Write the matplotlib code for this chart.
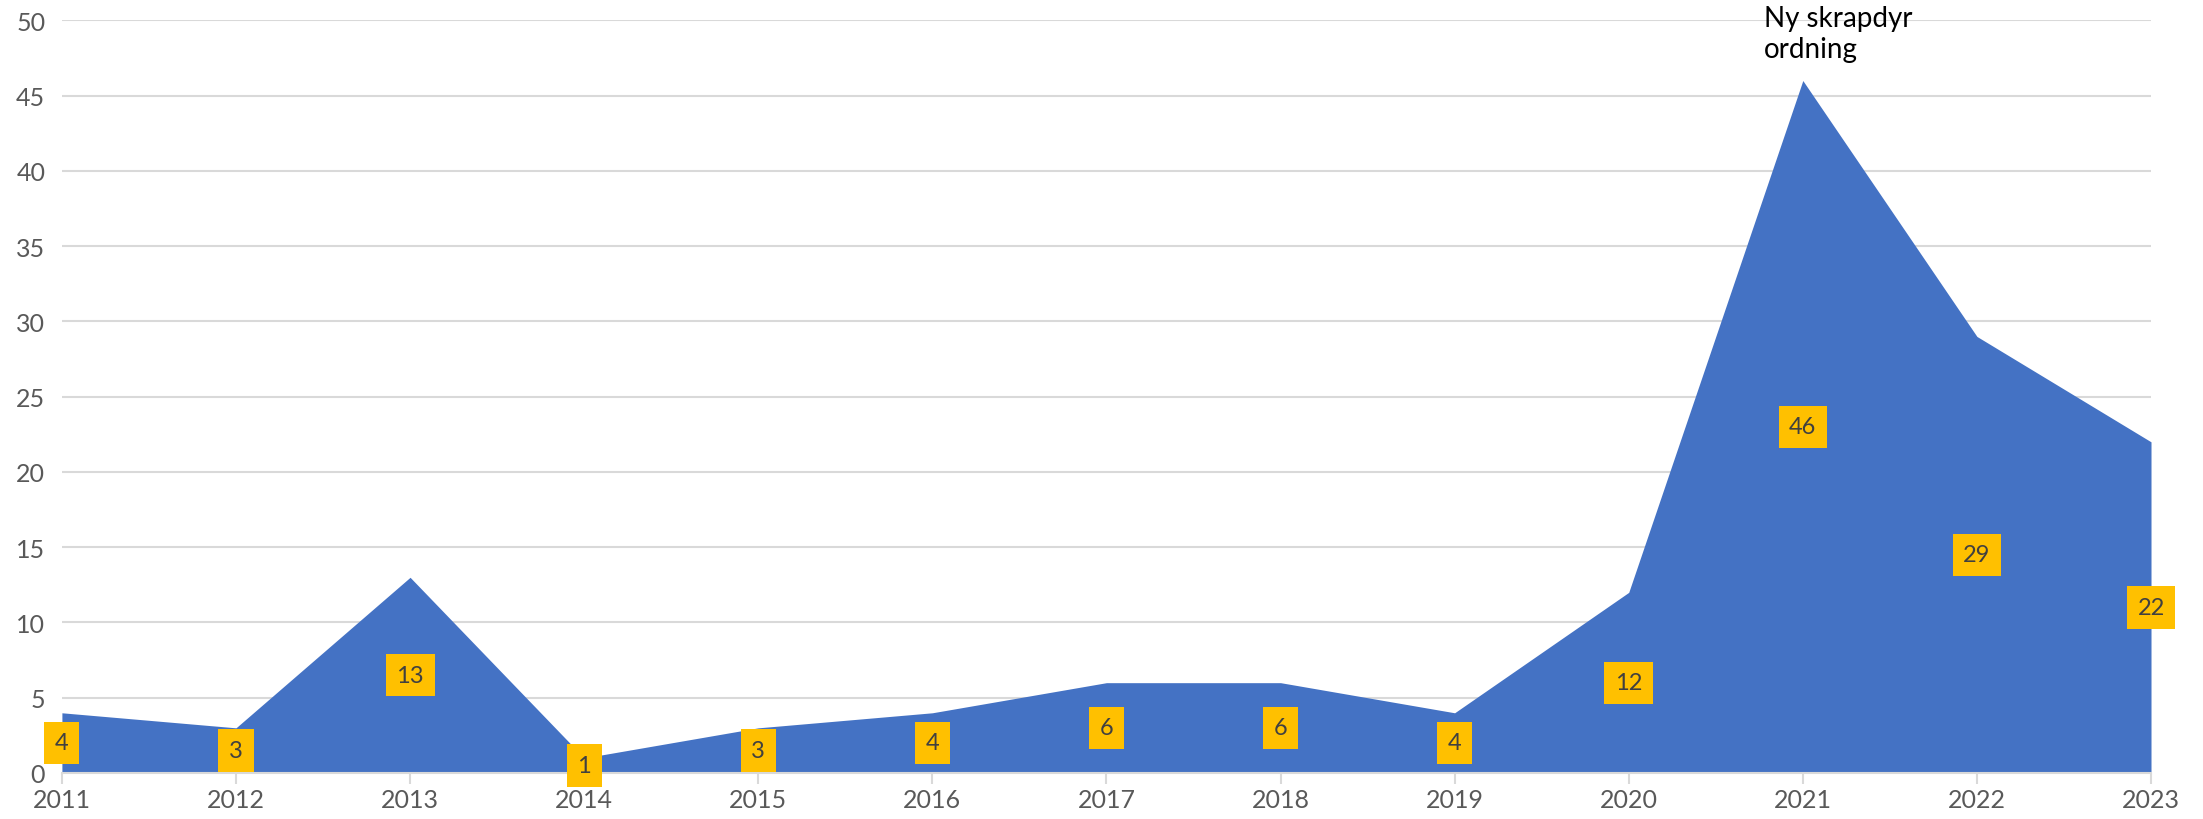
import matplotlib.pyplot as plt
import numpy as np

years = [2011, 2012, 2013, 2014, 2015, 2016, 2017, 2018, 2019, 2020, 2021, 2022, 2023]
counts = [4, 3, 13, 1, 3, 4, 6, 6, 4, 12, 46, 29, 22]
y_ticks = [0, 5, 10, 15, 20, 25, 30, 35, 40, 45, 50]
note_text = "Ny skrapdyr\nordning"
note_year = 2021

AREA = "#4472C4"
GRID = "#D9D9D9"
TICK = "#595959"
LABEL_BG = "#FFC000"

plt.rcParams["font.family"] = ["Lato", "DejaVu Sans"]

fig = plt.figure(figsize=(22.03, 8.2), dpi=100)
ax = fig.add_axes([0.0281, 0.0561, 0.9483, 0.9179])

x = np.arange(len(years))
ax.fill_between(x, counts, 0, color=AREA, linewidth=0, zorder=2)

ax.set_xlim(x[0], x[-1])
ax.set_ylim(0, 50)
ax.set_yticks(y_ticks)
ax.set_xticks(x)
ax.set_xticklabels([str(y) for y in years])
ax.yaxis.grid(True, color=GRID, linewidth=1.5, zorder=0)
ax.set_axisbelow(True)

for side in ["top", "right", "left"]:
    ax.spines[side].set_visible(False)
ax.spines["bottom"].set_color(GRID)
ax.spines["bottom"].set_linewidth(1.5)
ax.spines["bottom"].set_zorder(3)

ax.tick_params(axis="y", length=0, labelsize=18, labelcolor=TICK, pad=12)
ax.tick_params(axis="x", length=8, width=1.5, color=GRID, labelsize=18, labelcolor=TICK, pad=3)

# data labels sit halfway up each value, Excel-style
for xi, v in zip(x, counts):
    ax.text(xi, v / 2, str(v), ha="center", va="center", fontsize=17, color="#404040",
            bbox=dict(boxstyle="square,pad=0.45", facecolor=LABEL_BG, edgecolor="none"),
            zorder=5, clip_on=False)

ax.text(years.index(note_year) - 0.225, 49.1, note_text, ha="left", va="center",
        fontsize=20, color="black", linespacing=1.25)

fig.savefig("out.png", dpi=100)
